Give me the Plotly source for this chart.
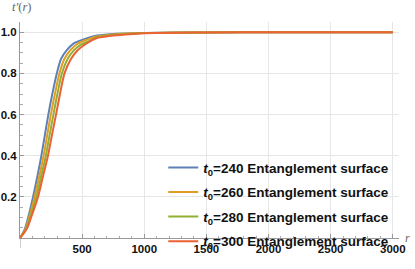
import plotly.graph_objects as go

# Estimated points
r_240 = [0, 40, 70, 105, 140, 172, 200, 228, 260, 296, 330, 375, 430, 500, 620, 780, 1000, 1500, 2000, 3000]
t_240 = [0, 0.046, 0.11, 0.2, 0.3, 0.4, 0.5, 0.6, 0.7, 0.8, 0.87, 0.912, 0.945, 0.963, 0.984, 0.993, 0.997, 0.999, 1.0, 1.0]

r_260 = [0, 45, 78, 118, 155, 190, 219, 248, 281, 317, 357, 404, 460, 530, 620, 780, 1000, 1500, 2000, 3000]
t_260 = [0, 0.046, 0.11, 0.2, 0.3, 0.4, 0.5, 0.6, 0.7, 0.8, 0.87, 0.912, 0.943, 0.962, 0.98, 0.991, 0.9965, 0.999, 1.0, 1.0]

r_280 = [0, 51, 87, 132, 170, 208, 238, 269, 301, 337, 383, 433, 490, 560, 620, 780, 1000, 1500, 2000, 3000]
t_280 = [0, 0.046, 0.11, 0.2, 0.3, 0.4, 0.5, 0.6, 0.7, 0.8, 0.87, 0.912, 0.94, 0.958, 0.976, 0.988, 0.996, 0.999, 1.0, 1.0]

r_300 = [0, 56, 95, 145, 185, 225, 257, 290, 322, 358, 410, 460, 500, 560, 620, 700, 780, 1000, 1500, 2000, 3000]
t_300 = [0, 0.046, 0.11, 0.2, 0.3, 0.4, 0.5, 0.6, 0.7, 0.8, 0.87, 0.91, 0.931, 0.955, 0.972, 0.98, 0.985, 0.995, 0.999, 1.0, 1.0]

t0_values = [240, 260, 280, 300]
series = [(r_240, t_240), (r_260, t_260), (r_280, t_280), (r_300, t_300)]
colors = ["#5E81B5", "#E19C24", "#8FB032", "#EB6235"]

x_ticks = [500, 1000, 1500, 2000, 2500, 3000]
y_ticks = [0.2, 0.4, 0.6, 0.8, 1.0]
y_tick_text = ["0.2", "0.4", "0.6", "0.8", "1.0"]

fig = go.Figure()
for i, (t0, (rs, ts), c) in enumerate(zip(t0_values, series, colors)):
    fig.add_trace(go.Scatter(
        x=rs, y=ts, mode="lines",
        line=dict(color=c, width=2, shape="spline", smoothing=0.8),
        name=f"<b><i>t</i><sub>0</sub>=%d Entanglement surface</b>" % t0,
        legendgroup=f"g{i}",
    ))

axis_font = dict(family="Liberation Sans", size=11.5, color="#111111", weight="bold")
fig.update_layout(
    width=415, height=269,
    margin=dict(l=20, r=16, t=22, b=19),
    paper_bgcolor="white", plot_bgcolor="white",
    showlegend=True,
    legend=dict(
        x=0.378, y=0.397, xanchor="left", yanchor="top",
        bgcolor="rgba(0,0,0,0)",
        font=dict(family="Liberation Sans", size=13.5, color="#111111"),
        tracegroupgap=4,
        itemwidth=30,
    ),
    xaxis=dict(
        range=[0, 3050], tickvals=x_ticks, ticktext=[str(v) for v in x_ticks],
        showgrid=True, gridcolor="#e6e6e6", gridwidth=1,
        showline=True, linecolor="#999999", linewidth=1,
        ticks="inside", ticklen=4, tickcolor="#999999",
        minor=dict(dtick=100, ticks="inside", ticklen=2.5, tickcolor="#aaaaaa", showgrid=False),
        zeroline=False, tickfont=axis_font, automargin=False,
    ),
    yaxis=dict(
        range=[0, 1.05], tickvals=y_ticks, ticktext=y_tick_text,
        showgrid=True, gridcolor="#e6e6e6", gridwidth=1,
        showline=True, linecolor="#999999", linewidth=1,
        ticks="inside", ticklen=4, tickcolor="#999999",
        minor=dict(dtick=0.05, ticks="inside", ticklen=2.5, tickcolor="#aaaaaa", showgrid=False),
        zeroline=False, tickfont=axis_font, automargin=False,
    ),
    shapes=[dict(type="line", xref="x", yref="paper", x0=0, x1=0, y0=-0.045, y1=0,
                 line=dict(color="#999999", width=1))],
    annotations=[
        dict(text="<i>t′</i>(<i>r</i>)", xref="paper", yref="paper", x=-0.027, y=1.03,
             xanchor="left", yanchor="bottom", showarrow=False,
             font=dict(family="Liberation Serif", size=12.5, color="#666666")),
        dict(text="<i>r</i>", xref="paper", yref="paper", x=1.01, y=0.0,
             xanchor="left", yanchor="middle", showarrow=False,
             font=dict(family="Liberation Serif", size=12, color="#666666")),
    ],
)

fig.write_html("out.html", config={"displayModeBar": False},
               post_script="document.body.style.margin='0';")
